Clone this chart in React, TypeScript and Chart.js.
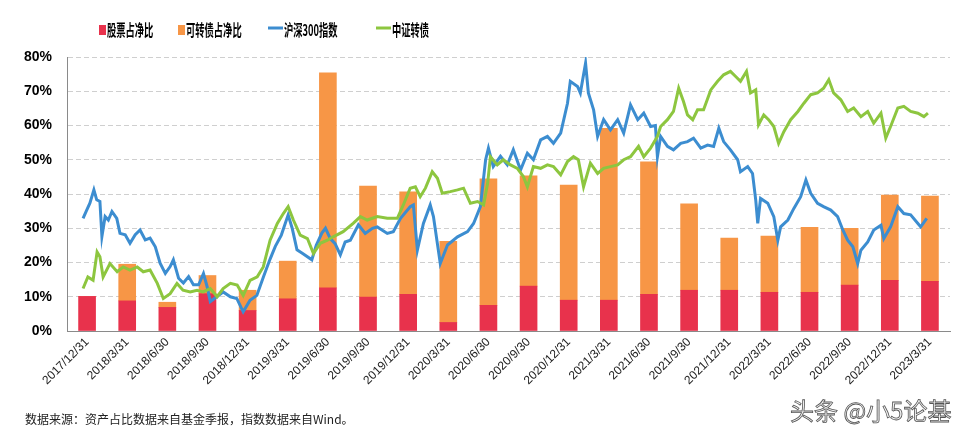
import React, { useEffect, useRef } from 'react';
import { Chart, registerables } from 'chart.js';

Chart.register(...registerables);

const categories = [
  '2017/12/31', '2018/3/31', '2018/6/30', '2018/9/30', '2018/12/31', '2019/3/31',
  '2019/6/30', '2019/9/30', '2019/12/31', '2020/3/31', '2020/6/30', '2020/9/30',
  '2020/12/31', '2021/3/31', '2021/6/30', '2021/9/30', '2021/12/31', '2022/3/31',
  '2022/6/30', '2022/9/30', '2022/12/31', '2023/3/31',
];

// 股票占净比 (%)
const stockRatio = [10.1, 8.8, 6.9, 10.9, 6.0, 9.4, 12.6, 9.9, 10.7, 2.5, 7.5, 13.1, 9.0, 9.0, 10.7, 11.9, 11.9, 11.3, 11.3, 13.4, 14.8, 14.5];
// 可转债占净比 (%), stacked on top of stock ratio
const cbRatio = [0, 10.7, 1.5, 5.3, 5.9, 11.0, 62.8, 32.4, 29.9, 23.7, 36.9, 32.2, 33.6, 50.2, 38.7, 25.2, 15.2, 16.4, 19.0, 16.6, 24.9, 24.9];

// [time in quarters since 2017/12/31, value on the % axis]
const hs300Series: [number, number][] = [
  [-0.10, 32.9], [-0.02, 35.0], [0.07, 37.3], [0.17, 41.2], [0.24, 38.3], [0.32, 37.8], [0.37, 27.6], [0.45, 33.4],
  [0.53, 32.4], [0.62, 34.9], [0.74, 32.9], [0.82, 28.5], [0.95, 28.1], [1.07, 25.6], [1.20, 28.1], [1.32, 29.5],
  [1.45, 26.6], [1.57, 27.1], [1.70, 24.6], [1.82, 19.8], [1.95, 16.8], [2.07, 18.8], [2.15, 20.8], [2.28, 15.4],
  [2.40, 14.0], [2.53, 15.9], [2.65, 13.5], [2.78, 13.5], [2.90, 16.8], [2.99, 13.0], [3.07, 8.6], [3.23, 10.0],
  [3.39, 11.4], [3.57, 10.0], [3.73, 9.5], [3.89, 5.6], [4.06, 9.0], [4.23, 10.4], [4.40, 16.0], [4.56, 21.0],
  [4.69, 24.7], [4.84, 28.0], [5.01, 33.9], [5.11, 30.0], [5.23, 23.7], [5.39, 22.5], [5.60, 20.8], [5.71, 25.0],
  [5.85, 28.6], [5.94, 30.0], [6.06, 27.0], [6.18, 25.5], [6.31, 22.2], [6.43, 26.0], [6.56, 26.5], [6.76, 31.0],
  [6.93, 28.5], [7.11, 30.0], [7.23, 30.4], [7.48, 28.5], [7.63, 29.0], [7.81, 32.9], [8.05, 36.3], [8.13, 36.8],
  [8.23, 23.6], [8.38, 31.4], [8.55, 36.8], [8.63, 33.4], [8.80, 19.7], [8.98, 25.1], [9.23, 27.5], [9.48, 29.0],
  [9.63, 31.4], [9.80, 36.3], [9.93, 50.0], [10.00, 53.4], [10.12, 48.0], [10.30, 51.0], [10.47, 48.5], [10.62, 52.9],
  [10.80, 47.0], [10.97, 51.9], [11.12, 50.0], [11.30, 55.8], [11.47, 56.8], [11.62, 54.8], [11.80, 57.8], [11.97, 66.5],
  [12.04, 72.9], [12.22, 71.4], [12.29, 69.5], [12.42, 78.2], [12.49, 69.5], [12.62, 64.6], [12.72, 56.8], [12.87, 61.7],
  [13.04, 58.7], [13.22, 61.7], [13.37, 57.8], [13.54, 66.0], [13.72, 61.7], [13.87, 63.6], [14.04, 59.7], [14.16, 60.0],
  [14.21, 50.9], [14.29, 56.8], [14.46, 53.9], [14.61, 52.9], [14.79, 54.8], [14.96, 55.3], [15.11, 56.3], [15.29, 53.4],
  [15.46, 54.3], [15.61, 53.9], [15.74, 59.2], [15.86, 55.3], [16.03, 52.9], [16.21, 50.0], [16.28, 46.5], [16.46, 48.0],
  [16.58, 46.0], [16.66, 38.2], [16.71, 31.4], [16.78, 38.7], [16.96, 37.3], [17.11, 33.4], [17.21, 26.5], [17.28, 30.4],
  [17.46, 32.4], [17.61, 35.8], [17.78, 39.2], [17.91, 44.1], [18.03, 40.2], [18.20, 37.3], [18.35, 36.3], [18.53, 35.3],
  [18.70, 33.4], [18.83, 29.5], [18.95, 26.5], [19.08, 24.6], [19.20, 19.7], [19.28, 23.6], [19.45, 26.0], [19.60, 29.5],
  [19.78, 30.9], [19.85, 27.0], [20.02, 30.4], [20.20, 36.3], [20.35, 34.3], [20.52, 33.9], [20.70, 31.4], [20.77, 30.4],
  [20.92, 32.9],
];

const cbIndexSeries: [number, number][] = [
  [-0.10, 12.4], [0.02, 15.8], [0.15, 14.8], [0.25, 23.1], [0.32, 21.7], [0.40, 15.8], [0.57, 19.7], [0.75, 17.3],
  [0.90, 18.7], [1.07, 17.8], [1.25, 18.7], [1.40, 17.3], [1.57, 17.8], [1.75, 13.9], [1.90, 9.5], [2.07, 10.9],
  [2.24, 13.9], [2.39, 11.9], [2.57, 11.4], [2.74, 11.9], [2.89, 11.4], [3.07, 12.4], [3.24, 10.0], [3.39, 12.4],
  [3.57, 13.9], [3.74, 13.4], [3.89, 10.4], [4.06, 14.8], [4.24, 15.8], [4.39, 18.7], [4.56, 26.5], [4.74, 31.4],
  [4.89, 34.3], [5.01, 36.3], [5.14, 32.4], [5.31, 28.0], [5.49, 27.0], [5.64, 22.6], [5.81, 25.6], [5.99, 26.5],
  [6.13, 27.5], [6.38, 29.0], [6.63, 31.4], [6.81, 33.4], [6.98, 32.4], [7.23, 33.4], [7.48, 32.9], [7.73, 32.9],
  [7.88, 36.8], [8.05, 41.7], [8.18, 42.1], [8.30, 39.2], [8.43, 41.7], [8.60, 46.5], [8.73, 44.6], [8.85, 40.2],
  [9.05, 40.7], [9.23, 41.2], [9.38, 41.7], [9.55, 37.3], [9.73, 37.8], [9.88, 36.8], [9.98, 43.1], [10.05, 50.9],
  [10.22, 48.5], [10.37, 50.0], [10.55, 48.5], [10.72, 47.5], [10.87, 45.1], [10.97, 42.1], [11.12, 48.0], [11.30, 47.5],
  [11.47, 48.5], [11.62, 48.0], [11.80, 45.6], [11.97, 49.5], [12.12, 50.9], [12.24, 50.0], [12.37, 42.1], [12.54, 49.0],
  [12.72, 46.0], [12.87, 47.5], [13.04, 48.0], [13.22, 48.5], [13.37, 50.0], [13.54, 50.9], [13.74, 53.9], [13.87, 50.9],
  [14.04, 53.4], [14.21, 56.8], [14.29, 59.7], [14.46, 61.7], [14.61, 64.1], [14.74, 70.9], [14.86, 67.0], [14.96, 63.1],
  [15.09, 61.7], [15.21, 64.6], [15.36, 64.6], [15.54, 70.4], [15.71, 72.9], [15.86, 74.8], [16.03, 75.8], [16.16, 74.3],
  [16.28, 72.9], [16.43, 75.8], [16.53, 69.5], [16.66, 70.4], [16.73, 60.2], [16.86, 63.1], [16.98, 61.7], [17.11, 59.7],
  [17.23, 54.8], [17.36, 58.2], [17.53, 61.7], [17.71, 64.1], [17.86, 66.5], [18.03, 69.0], [18.20, 69.5], [18.35, 70.9],
  [18.48, 73.4], [18.60, 69.5], [18.78, 67.5], [18.95, 64.1], [19.10, 65.1], [19.28, 62.6], [19.45, 64.1], [19.60, 60.7],
  [19.78, 63.6], [19.90, 56.3], [20.02, 59.7], [20.20, 65.1], [20.35, 65.6], [20.52, 64.1], [20.70, 63.6], [20.85, 62.6],
  [20.95, 63.6],
];

const seriesNames = ['股票占净比', '可转债占净比', '沪深300指数', '中证转债'];
const seriesColors = ['#E8324C', '#F79646', '#3C8DD0', '#8DC63F'];
const yMax = 80;
const yStep = 10;

const legendStarts = [99, 178, 268, 376];

const customLegend = {
  id: 'customLegend',
  afterDraw(chart: any) {
    const ctx = chart.ctx as CanvasRenderingContext2D;
    ctx.save();
    ctx.font = 'bold 16px "Noto Sans CJK SC"';
    ctx.textBaseline = 'middle';
    chart.data.datasets.forEach((ds: any, i: number) => {
      const x0 = legendStarts[i];
      let tx: number;
      if (ds.type === 'line') {
        ctx.strokeStyle = ds.borderColor;
        ctx.lineWidth = 3;
        ctx.beginPath();
        ctx.moveTo(x0, 28);
        ctx.lineTo(x0 + 15, 28);
        ctx.stroke();
        tx = x0 + 16;
      } else {
        ctx.fillStyle = ds.backgroundColor;
        ctx.fillRect(x0, 25, 7, 10);
        tx = x0 + 8;
      }
      ctx.save();
      ctx.translate(tx, 30);
      ctx.scale(0.58, 1);
      ctx.fillStyle = '#000';
      ctx.fillText(ds.label, 0, 0);
      ctx.restore();
    });
    ctx.restore();
  },
};

export default function App() {
  const canvasRef = useRef<HTMLCanvasElement | null>(null);

  useEffect(() => {
    if (!canvasRef.current) return;
    const chart = new Chart(canvasRef.current, {
      type: 'line',
      data: {
        datasets: [
          {
            type: 'bar',
            label: seriesNames[0],
            data: stockRatio.map((y, x) => ({ x, y })),
            backgroundColor: seriesColors[0],
            stack: 'holdings',
            order: 3,
            barThickness: 17,
            yAxisID: 'y',
          },
          {
            type: 'bar',
            label: seriesNames[1],
            data: cbRatio.map((y, x) => ({ x, y })),
            backgroundColor: seriesColors[1],
            stack: 'holdings',
            order: 3,
            barThickness: 17,
            yAxisID: 'y',
          },
          {
            type: 'line',
            label: seriesNames[2],
            data: hs300Series.map(([x, y]) => ({ x, y })),
            borderColor: seriesColors[2],
            backgroundColor: seriesColors[2],
            borderWidth: 3,
            pointRadius: 0,
            tension: 0,
            yAxisID: 'yLine',
            order: 2,
          },
          {
            type: 'line',
            label: seriesNames[3],
            data: cbIndexSeries.map(([x, y]) => ({ x, y })),
            borderColor: seriesColors[3],
            backgroundColor: seriesColors[3],
            borderWidth: 3,
            pointRadius: 0,
            tension: 0,
            yAxisID: 'yLine',
            order: 1,
          },
        ] as any,
      },
      options: {
        responsive: false,
        animation: false,
        layout: { padding: { top: 57, right: 24, left: 0, bottom: 0 } },
        plugins: {
          legend: { display: false },
          tooltip: { enabled: false },
        },
        scales: {
          x: {
            type: 'linear',
            offset: false,
            min: -0.5,
            max: categories.length - 0.5,
            stacked: true,
            grid: { display: false, drawTicks: false },
            border: { display: true, color: '#8a8a8a', width: 1 },
            afterBuildTicks: (s: any) => {
              s.ticks = categories.map((_, i) => ({ value: i }));
            },
            ticks: {
              autoSkip: false,
              maxRotation: 45,
              minRotation: 45,
              padding: 4,
              color: '#222',
              font: { family: '"Liberation Sans", Arial, sans-serif', size: 12 },
              callback: (v: any) => categories[Math.round(Number(v))] ?? '',
            },
            afterFit: (s: any) => { s.height = 107; },
          },
          y: {
            type: 'linear',
            stacked: true,
            min: 0,
            max: yMax,
            grid: { color: '#cfcfcf', lineWidth: 1, drawTicks: false },
            border: { display: true, color: '#8a8a8a', width: 1, dash: [5, 3] },
            ticks: {
              stepSize: yStep,
              padding: 15,
              color: '#000',
              font: { family: '"Liberation Sans", Arial, sans-serif', size: 14, weight: 'bold' },
              callback: (v: any) => `${v}%`,
            },
            afterFit: (s: any) => { s.width = 67; },
          },
          yLine: {
            type: 'linear',
            display: false,
            stacked: false,
            min: 0,
            max: yMax,
          },
        },
      } as any,
      plugins: [customLegend],
    });
    return () => chart.destroy();
  }, []);

  return (
    <div style={{ position: 'absolute', left: 0, top: 0, width: 974, height: 438, background: '#fff', overflow: 'hidden' }}>
      <canvas ref={canvasRef} width={974} height={438} style={{ display: 'block' }} />
      <div
        style={{
          position: 'absolute', left: 25, top: 413, fontSize: 12, lineHeight: 1,
          fontFamily: '"Noto Sans CJK SC", sans-serif', color: '#222', whiteSpace: 'nowrap',
        }}
      >
        数据来源：资产占比数据来自基金季报，指数数据来自Wind。
      </div>
      <div
        style={{
          position: 'absolute', left: 790, top: 398, fontSize: 24, lineHeight: 1,
          fontFamily: '"Noto Sans CJK SC", sans-serif', color: '#f2f2f2', whiteSpace: 'nowrap',
          WebkitTextStroke: '0.8px #555',
        }}
      >
        头条 @小5论基
      </div>
    </div>
  );
}
